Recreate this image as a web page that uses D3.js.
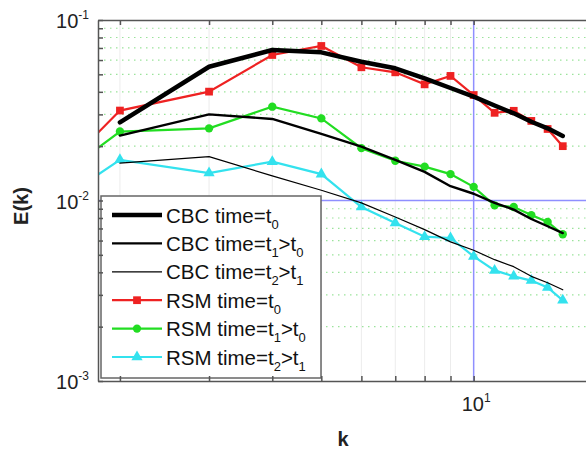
<!DOCTYPE html>
<html>
<head>
<meta charset="utf-8">
<script src="https://cdn.jsdelivr.net/npm/d3@7"></script>
<style>
  body { margin: 0; background: #fff; }
  svg { display: block; font-family: "Liberation Sans", Arial, sans-serif; }
</style>
</head>
<body>
<div id="chart"></div>
<script>
// wavenumbers
const kRSM = [1, 2, 3, 4, 5, 6, 7, 8, 9, 10, 11, 12, 13, 14, 15];
const kCBC = [2, 3, 4, 5, 6, 7, 8, 9, 10, 11, 12, 13, 14, 15];

// CBC spectra
const cbcT0 = [0.0271, 0.0551, 0.0682, 0.0662, 0.0587, 0.0540, 0.0475, 0.0420, 0.0376, 0.0336, 0.0304, 0.0273, 0.0251, 0.0228];
const cbcT1 = [0.0229, 0.0300, 0.0283, 0.0234, 0.0199, 0.0168, 0.0144, 0.0120, 0.0109, 0.0097, 0.0089, 0.0079, 0.0072, 0.0066];
const cbcT2 = [0.0161, 0.0175, 0.0137, 0.0114, 0.0097, 0.0081, 0.0069, 0.0059, 0.0053, 0.0047, 0.0043, 0.0038, 0.0035, 0.0032];

// RSM spectra
const rsmT0 = [0.0044, 0.0315, 0.0401, 0.0640, 0.0718, 0.0547, 0.0513, 0.0440, 0.0490, 0.0384, 0.0306, 0.0314, 0.0276, 0.0249, 0.0200];
const rsmT1 = [0.0057, 0.0241, 0.0251, 0.0331, 0.0285, 0.0195, 0.0166, 0.0154, 0.0140, 0.0119, 0.0094, 0.0092, 0.0083, 0.0076, 0.0065];
const rsmT2 = [0.0045, 0.0168, 0.0142, 0.0164, 0.0140, 0.0092, 0.0075, 0.0063, 0.0062, 0.0049, 0.0041, 0.0038, 0.0036, 0.0033, 0.0028];

// ticks
const xTicks = [2, 3, 4, 5, 6, 7, 8, 9, 10, 20];
const yMajor = [1e-3, 1e-2, 1e-1];
const yMinor = [2e-3, 3e-3, 4e-3, 5e-3, 6e-3, 7e-3, 8e-3, 9e-3, 2e-2, 3e-2, 4e-2, 5e-2, 6e-2, 7e-2, 8e-2, 9e-2];

const w = 586, h = 449;
const x0 = 98, x1 = 626, y0 = 381, y1 = 20;

const x = d3.scaleLog().domain([1.81, 20]).range([x0, x1]);
const y = d3.scaleLog().domain([1e-3, 1e-1]).range([y0, y1]);

const svg = d3.select('#chart').append('svg')
    .attr('width', w)
    .attr('height', h);

svg.append('clipPath').attr('id', 'clip')
    .append('rect')
    .attr('x', x0).attr('y', y1)
    .attr('width', x1 - x0).attr('height', y0 - y1);

const plot = svg.append('g').attr('clip-path', 'url(#clip)');

// faint vertical grid at minor x ticks
plot.selectAll('.vgrid')
    .data(xTicks.filter(d => d !== 10 && d !== 20))
    .enter().append('line')
    .attr('x1', d => x(d)).attr('x2', d => x(d))
    .attr('y1', y1).attr('y2', y0)
    .attr('stroke', '#ececec')
    .attr('stroke-width', 1);

// dotted green horizontal grid at minor y ticks
plot.selectAll('.hgrid')
    .data(yMinor)
    .enter().append('line')
    .attr('x1', x0).attr('x2', x1)
    .attr('y1', d => y(d)).attr('y2', d => y(d))
    .attr('stroke', '#9be39b')
    .attr('stroke-width', 1.2)
    .attr('stroke-dasharray', '1.5,4.5');

// major grid lines
plot.append('line')
    .attr('x1', x(10)).attr('x2', x(10))
    .attr('y1', y1).attr('y2', y0)
    .attr('stroke', '#8f8fff').attr('stroke-width', 1.5);
plot.append('line')
    .attr('x1', x0).attr('x2', x1)
    .attr('y1', y(1e-2)).attr('y2', y(1e-2))
    .attr('stroke', '#8f8fff').attr('stroke-width', 1.5);

const line = d3.line()
    .x(d => x(d[0]))
    .y(d => y(d[1]));

const rsmSeries = [
    { k: kRSM, v: rsmT0, color: '#ee2222', marker: 'square' },
    { k: kRSM, v: rsmT1, color: '#22dd22', marker: 'circle' },
    { k: kRSM, v: rsmT2, color: '#33e2ee', marker: 'triangle' }
];
const cbcSeries = [
    { k: kCBC, v: cbcT0, width: 4.5 },
    { k: kCBC, v: cbcT1, width: 2.4 },
    { k: kCBC, v: cbcT2, width: 1.2 }
];

const symbols = {
    square: d3.symbol().type(d3.symbolSquare).size(60),
    circle: d3.symbol().type(d3.symbolCircle).size(55),
    triangle: d3.symbol().type(d3.symbolTriangle).size(55)
};

rsmSeries.forEach(s => {
    const pts = s.k.map((k, i) => [k, s.v[i]]);
    plot.append('path')
        .datum(pts)
        .attr('d', line)
        .attr('fill', 'none')
        .attr('stroke', s.color)
        .attr('stroke-width', 2.2);
    plot.selectAll(null)
        .data(pts.filter(p => p[0] >= 2))
        .enter().append('path')
        .attr('d', symbols[s.marker])
        .attr('transform', p => `translate(${x(p[0])},${y(p[1])})`)
        .attr('fill', s.color);
});

cbcSeries.forEach(s => {
    const pts = s.k.map((k, i) => [k, s.v[i]]);
    plot.append('path')
        .datum(pts)
        .attr('d', line)
        .attr('fill', 'none')
        .attr('stroke', '#000')
        .attr('stroke-width', s.width)
        .attr('stroke-linejoin', 'round')
        .attr('stroke-linecap', 'round');
});

// legend
const legendLabels = [
    ['CBC time=t', '0', '', ''],
    ['CBC time=t', '1', '>t', '0'],
    ['CBC time=t', '2', '>t', '1'],
    ['RSM time=t', '0', '', ''],
    ['RSM time=t', '1', '>t', '0'],
    ['RSM time=t', '2', '>t', '1']
];
const lg = svg.append('g');
lg.append('rect')
    .attr('x', 101).attr('y', 196)
    .attr('width', 220).attr('height', 182)
    .attr('fill', '#fff')
    .attr('stroke', '#666')
    .attr('stroke-width', 1.5);

legendLabels.forEach((lab, i) => {
    const cy = 215 + i * 28.4;
    const g = lg.append('g');
    if (i < 3) {
        g.append('line')
            .attr('x1', 112).attr('x2', 162)
            .attr('y1', cy).attr('y2', cy)
            .attr('stroke', '#000')
            .attr('stroke-width', cbcSeries[i].width);
    } else {
        const s = rsmSeries[i - 3];
        g.append('line')
            .attr('x1', 112).attr('x2', 162)
            .attr('y1', cy).attr('y2', cy)
            .attr('stroke', s.color)
            .attr('stroke-width', 2.2);
        g.append('path')
            .attr('d', symbols[s.marker])
            .attr('transform', `translate(137,${cy})`)
            .attr('fill', s.color);
    }
    const t = g.append('text')
        .attr('x', 166).attr('y', cy + 7.5)
        .attr('font-size', 20.5)
        .attr('fill', '#111');
    t.append('tspan').text(lab[0]);
    t.append('tspan').attr('dy', 6).attr('font-size', 13).text(lab[1]);
    if (lab[2]) {
        t.append('tspan').attr('dy', -6).text(lab[2]);
        t.append('tspan').attr('dy', 6).attr('font-size', 13).text(lab[3]);
    }
});

// axes
const axisColor = '#555';
const xAxisB = d3.axisBottom(x).tickValues(xTicks).tickSizeInner(-5).tickSizeOuter(0).tickFormat('');
const xAxisT = d3.axisTop(x).tickValues(xTicks).tickSizeInner(-5).tickSizeOuter(0).tickFormat('');
const yAxisL = d3.axisLeft(y).tickValues(yMajor.concat(yMinor)).tickSizeInner(-5).tickSizeOuter(0).tickFormat('');

svg.append('g').attr('transform', `translate(0,${y0})`).call(xAxisB);
svg.append('g').attr('transform', `translate(0,${y1})`).call(xAxisT);
svg.append('g').attr('transform', `translate(${x0},0)`).call(yAxisL);
svg.selectAll('.domain, .tick line')
    .attr('stroke', axisColor)
    .attr('stroke-width', 1.5);

// tick labels with exponents
yMajor.forEach(v => {
    const t = svg.append('text')
        .attr('x', 89).attr('y', y(v) + 8)
        .attr('text-anchor', 'end')
        .attr('font-size', 20)
        .attr('fill', '#222');
    t.append('tspan').text('10');
    t.append('tspan').attr('dy', -9).attr('font-size', 12).text(String(Math.round(Math.log10(v))).replace('-', '-'));
});
const xl = svg.append('text')
    .attr('x', x(10) - 12).attr('y', 411)
    .attr('font-size', 20)
    .attr('fill', '#222');
xl.append('tspan').text('10');
xl.append('tspan').attr('dy', -9).attr('font-size', 12).text('1');

// axis titles
svg.append('text')
    .attr('x', 343).attr('y', 446)
    .attr('text-anchor', 'middle')
    .attr('font-size', 20)
    .attr('font-weight', 'bold')
    .attr('fill', '#222')
    .text('k');
svg.append('text')
    .attr('transform', 'translate(28,206) rotate(-90)')
    .attr('text-anchor', 'middle')
    .attr('font-size', 20)
    .attr('font-weight', 'bold')
    .attr('fill', '#222')
    .text('E(k)');
</script>
</body>
</html>
